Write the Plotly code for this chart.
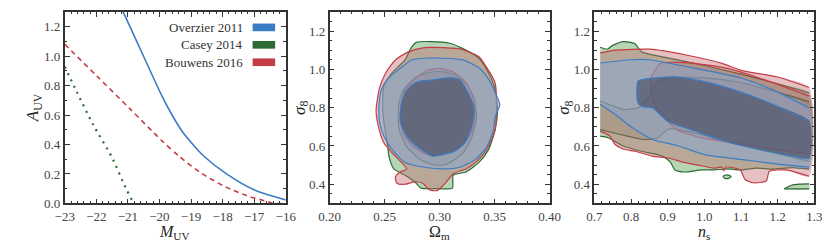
import plotly.graph_objects as go

# ---------------- data ----------------
# Left panel: A_UV vs M_UV relations
muv_overzier = [-21.15, -20.72, -20.25, -19.9, -19.6, -19.3, -19.04, -18.6, -17.91, -17.04, -16.5, -16.0]
auv_overzier = [1.30, 1.10, 0.88, 0.72, 0.60, 0.495, 0.425, 0.322, 0.206, 0.096, 0.055, 0.024]
muv_casey = [-23.0, -22.61, -22.10, -21.51, -21.05, -20.84, -20.82]
auv_casey = [0.928, 0.753, 0.534, 0.315, 0.096, 0.01, 0.0]
muv_bouwens = [-23.0, -21.97, -20.94, -19.92, -19.35, -18.68, -17.96, -17.24, -16.52, -16.4, -16.0]
auv_bouwens = [1.08, 0.862, 0.643, 0.425, 0.315, 0.206, 0.118, 0.053, 0.009, 0.0, 0.0]
legend_labels = ["Overzier 2011", "Casey 2014", "Bouwens 2016"]

# Middle panel: sigma8 vs Omega_m contours (closed loops)
om_green_95 = [(0.2482, 0.815), (0.2496, 0.915), (0.2569, 0.982), (0.2686, 1.049), (0.2745, 1.116), (0.2788, 1.141),
               (0.2920, 1.145), (0.3095, 1.136), (0.3212, 1.108), (0.3358, 1.058), (0.3445, 0.982), (0.3504, 0.899),
               (0.3527, 0.782), (0.3504, 0.681), (0.3445, 0.581), (0.3358, 0.514), (0.3241, 0.464), (0.3124, 0.447),
               (0.3117, 0.380), (0.2978, 0.377), (0.2832, 0.380), (0.2774, 0.413), (0.2686, 0.447), (0.2584, 0.480),
               (0.2540, 0.547), (0.2526, 0.614), (0.2496, 0.715)]
om_green_68 = [(0.2635, 0.832), (0.2680, 0.899), (0.2790, 0.960), (0.2920, 0.985), (0.3036, 0.987), (0.3153, 0.968),
               (0.3256, 0.916), (0.3320, 0.832), (0.3335, 0.748), (0.3295, 0.648), (0.3212, 0.564), (0.3066, 0.505),
               (0.2960, 0.500), (0.2820, 0.531), (0.2700, 0.598), (0.2635, 0.681), (0.2625, 0.765)]
om_red_95 = [(0.2423, 0.782), (0.2453, 0.899), (0.2511, 0.982), (0.2599, 1.049), (0.2715, 1.091), (0.2861, 1.113),
             (0.3036, 1.113), (0.3212, 1.103), (0.3358, 1.066), (0.3431, 1.008), (0.3504, 0.932), (0.3518, 0.815),
             (0.3504, 0.681), (0.3445, 0.597), (0.3358, 0.530), (0.3241, 0.480), (0.3124, 0.455), (0.3051, 0.405),
             (0.2978, 0.367), (0.2905, 0.372), (0.2847, 0.405), (0.2774, 0.413), (0.2686, 0.400), (0.2613, 0.405),
             (0.2599, 0.438), (0.2642, 0.464), (0.2701, 0.480), (0.2569, 0.564), (0.2496, 0.614), (0.2453, 0.681)]
om_red_68 = [(0.2652, 0.815), (0.2686, 0.890), (0.2774, 0.950), (0.2891, 0.995), (0.3000, 1.005), (0.3130, 0.985),
             (0.3240, 0.930), (0.3310, 0.849), (0.3320, 0.765), (0.3299, 0.681), (0.3226, 0.614), (0.3124, 0.572),
             (0.3007, 0.553), (0.2861, 0.562), (0.2745, 0.606), (0.2672, 0.664), (0.2645, 0.740)]
om_blue_95 = [(0.2450, 0.815), (0.2470, 0.890), (0.2526, 0.949), (0.2628, 0.999), (0.2745, 1.049), (0.2861, 1.058),
              (0.3036, 1.058), (0.3212, 1.049), (0.3358, 1.008), (0.3445, 0.949), (0.3504, 0.882), (0.3547, 0.815),
              (0.3504, 0.748), (0.3489, 0.681), (0.3431, 0.597), (0.3328, 0.530), (0.3182, 0.489), (0.3036, 0.480),
              (0.2861, 0.489), (0.2686, 0.514), (0.2569, 0.581), (0.2496, 0.648), (0.2453, 0.731)]
om_blue_68 = [(0.2642, 0.765), (0.2657, 0.832), (0.2701, 0.890), (0.2774, 0.929), (0.2861, 0.941), (0.2964, 0.946),
              (0.3095, 0.957), (0.3182, 0.946), (0.3256, 0.882), (0.3314, 0.798), (0.3299, 0.715), (0.3270, 0.664),
              (0.3226, 0.614), (0.3139, 0.572), (0.3036, 0.556), (0.2934, 0.547), (0.2832, 0.581), (0.2730, 0.631),
              (0.2672, 0.681), (0.2642, 0.731)]

# Right panel: sigma8 vs n_s contours (upper and lower edges, cut at prior edges)
ns_green_95_top = [(0.716, 1.115), (0.735, 1.105), (0.75, 1.125), (0.78, 1.145), (0.81, 1.135), (0.83, 1.09),
                   (0.9, 1.06), (1.0, 1.02), (1.1, 0.975), (1.2, 0.925), (1.286, 0.877)]
ns_green_95_bot = [(0.716, 0.651), (0.738, 0.643), (0.778, 0.600), (0.831, 0.571), (0.885, 0.547), (0.907, 0.517),
                   (0.920, 0.475), (0.947, 0.464), (0.991, 0.475), (1.027, 0.475), (1.062, 0.480), (1.098, 0.475),
                   (1.142, 0.484), (1.186, 0.479), (1.240, 0.487), (1.286, 0.479)]
ns_green_island_a = [(1.051, 0.440), (1.056, 0.447), (1.066, 0.448), (1.073, 0.440), (1.066, 0.431), (1.056, 0.431)]
ns_green_island_b_top = [(1.218, 0.376), (1.239, 0.396), (1.260, 0.401), (1.286, 0.402)]
ns_green_island_b_bot = [(1.218, 0.376), (1.286, 0.376)]
ns_green_68_top = [(0.716, 0.835), (0.75, 0.81), (0.78, 0.79), (0.82, 0.80), (0.85, 0.86), (0.87, 0.93),
                   (0.9, 0.955), (1.0, 0.955), (1.1, 0.93), (1.2, 0.88), (1.286, 0.83)]
ns_green_68_bot = [(0.716, 0.685), (0.77, 0.66), (0.83, 0.635), (0.87, 0.64), (0.905, 0.69), (0.94, 0.68),
                   (1.0, 0.655), (1.05, 0.625), (1.1, 0.605), (1.2, 0.56), (1.286, 0.52)]
ns_red_95_top = [(0.716, 1.086), (0.76, 1.10), (0.85, 1.105), (0.95, 1.075), (1.05, 1.03), (1.1, 0.995),
                 (1.2, 0.96), (1.286, 0.905)]
ns_red_95_bot = [(0.716, 0.676), (0.743, 0.651), (0.756, 0.609), (0.778, 0.584), (0.814, 0.571), (0.858, 0.547),
                 (0.902, 0.537), (0.938, 0.517), (0.982, 0.500), (1.027, 0.484), (1.048, 0.489), (1.053, 0.470),
                 (1.058, 0.489), (1.098, 0.475), (1.111, 0.425), (1.133, 0.408), (1.169, 0.417), (1.177, 0.467),
                 (1.222, 0.475), (1.286, 0.442)]
ns_red_68_top = [(0.853, 0.95), (0.858, 0.97), (0.88, 1.03), (0.95, 1.035), (1.05, 1.01), (1.15, 0.955), (1.286, 0.86)]
ns_red_68_bot = [(0.853, 0.95), (0.855, 0.88), (0.87, 0.80), (0.9, 0.73), (0.93, 0.68), (0.95, 0.665), (1.0, 0.64),
                 (1.1, 0.61), (1.2, 0.58), (1.286, 0.559)]
ns_blue_95_top = [(0.716, 1.033), (0.8, 1.050), (0.85, 1.050), (0.9, 1.033), (0.99, 1.0), (1.098, 0.956),
                  (1.186, 0.894), (1.286, 0.798)]
ns_blue_95_bot = [(0.716, 0.818), (0.76, 0.76), (0.80, 0.70), (0.858, 0.634), (0.93, 0.60), (1.0, 0.555),
                  (1.1, 0.530), (1.2, 0.505), (1.286, 0.489)]
ns_blue_68_top = [(0.816, 0.90), (0.820, 0.939), (0.92, 0.961), (1.01, 0.932), (1.098, 0.882), (1.186, 0.818),
                  (1.286, 0.731)]
ns_blue_68_bot = [(0.816, 0.90), (0.818, 0.83), (0.83, 0.805), (0.858, 0.80), (0.902, 0.726), (0.964, 0.685),
                  (1.053, 0.626), (1.142, 0.584), (1.231, 0.55), (1.286, 0.534)]

# ---------------- style ----------------
BLUE = (59, 125, 196)
GREEN = (45, 106, 52)
RED = (196, 60, 68)
FILL = {
    ("g", 95): "rgba(70,150,70,0.40)", ("g", 68): "rgba(45,90,50,0.16)",
    ("r", 95): "rgba(193,100,107,0.40)", ("r", 68): "rgba(150,50,60,0.18)",
    ("b", 95): "rgba(135,165,205,0.55)", ("b", 68): "rgba(72,76,100,0.64)",
}
LINE = {"g": GREEN, "r": RED, "b": BLUE}
FONT = "Liberation Serif, Times New Roman, serif"
AX = "#333333"


def rgb(c):
    return "rgb(%d,%d,%d)" % c


fig = go.Figure()

# left panel
fig.add_trace(go.Scatter(x=muv_overzier, y=auv_overzier, mode="lines",
                         line=dict(color=rgb(BLUE), width=1.6, shape="spline", smoothing=1.0),
                         xaxis="x", yaxis="y", showlegend=False))
fig.add_trace(go.Scatter(x=muv_casey, y=auv_casey, mode="lines",
                         line=dict(color=rgb(GREEN), width=2.2, dash="2px,5px", shape="spline", smoothing=0.6),
                         xaxis="x", yaxis="y", showlegend=False))
fig.add_trace(go.Scatter(x=muv_bouwens, y=auv_bouwens, mode="lines",
                         line=dict(color=rgb(RED), width=1.6, dash="5px,4px", shape="spline", smoothing=0.8),
                         xaxis="x", yaxis="y", showlegend=False))


def loop(pts, key, lev, xa, ya):
    xs = [p[0] for p in pts] + [pts[0][0]]
    ys = [p[1] for p in pts] + [pts[0][1]]
    fig.add_trace(go.Scatter(x=xs, y=ys, mode="lines", fill="toself", fillcolor=FILL[(key, lev)],
                             line=dict(color=rgb(LINE[key]), width=1.2, shape="spline", smoothing=0.6),
                             xaxis=xa, yaxis=ya, showlegend=False, hoverinfo="skip"))


def band(top, bot, key, lev, xa, ya):
    poly = top + bot[::-1]
    fig.add_trace(go.Scatter(x=[p[0] for p in poly], y=[p[1] for p in poly], mode="lines", fill="toself",
                             fillcolor=FILL[(key, lev)], line=dict(width=0, shape="spline", smoothing=0.6),
                             xaxis=xa, yaxis=ya, showlegend=False, hoverinfo="skip"))
    for edge in (top, bot):
        fig.add_trace(go.Scatter(x=[p[0] for p in edge], y=[p[1] for p in edge], mode="lines",
                                 line=dict(color=rgb(LINE[key]), width=1.2, shape="spline", smoothing=0.6),
                                 xaxis=xa, yaxis=ya, showlegend=False, hoverinfo="skip"))


# middle panel
loop(om_green_95, "g", 95, "x2", "y2")
loop(om_green_68, "g", 68, "x2", "y2")
loop(om_red_95, "r", 95, "x2", "y2")
loop(om_red_68, "r", 68, "x2", "y2")
loop(om_blue_95, "b", 95, "x2", "y2")
loop(om_blue_68, "b", 68, "x2", "y2")

# right panel
band(ns_green_95_top, ns_green_95_bot, "g", 95, "x3", "y3")
loop(ns_green_island_a, "g", 95, "x3", "y3")
band(ns_green_island_b_top, ns_green_island_b_bot, "g", 95, "x3", "y3")
band(ns_green_68_top, ns_green_68_bot, "g", 68, "x3", "y3")
band(ns_red_95_top, ns_red_95_bot, "r", 95, "x3", "y3")
band(ns_red_68_top, ns_red_68_bot, "r", 68, "x3", "y3")
band(ns_blue_95_top, ns_blue_95_bot, "b", 95, "x3", "y3")
band(ns_blue_68_top, ns_blue_68_bot, "b", 68, "x3", "y3")

# axes
W, H = 830, 246
ydom = [1 - 202 / H, 1 - 4 / H]
doms = [[47 / W, 274 / W], [319 / W, 545 / W], [591 / W, 817 / W]]


def axis(dom, rng, dtick, minor_dtick, fmt=None):
    d = dict(domain=dom, range=rng, dtick=dtick, tick0=0, ticks="inside", ticklen=5, tickwidth=1,
             tickcolor=AX, showline=True, linecolor=AX, linewidth=1.6, mirror="allticks",
             showgrid=False, zeroline=False,
             minor=dict(dtick=minor_dtick, tick0=0, ticks="inside", ticklen=2.5, tickcolor=AX, showgrid=False),
             tickfont=dict(family=FONT, size=13, color="#444"))
    if fmt:
        d["tickformat"] = fmt
    return d


fig.update_layout(
    width=W, height=H, margin=dict(l=0, r=0, t=0, b=0),
    paper_bgcolor="white", plot_bgcolor="white",
    font=dict(family=FONT, size=13, color="#333"),
    xaxis=axis(doms[0], [-23, -16], 1, 0.2),
    yaxis=axis(ydom, [0, 1.3], 0.2, 0.1, ".1f"),
    xaxis2=axis(doms[1], [0.2, 0.4], 0.05, 0.01, ".2f"),
    yaxis2=axis(ydom, [0.3, 1.3], 0.2, 0.05, ".1f"),
    xaxis3=axis(doms[2], [0.7, 1.3], 0.1, 0.02, ".1f"),
    yaxis3=axis(ydom, [0.3, 1.3], 0.2, 0.05, ".1f"),
)
fig.layout.xaxis2.anchor = "y2"
fig.layout.yaxis2.anchor = "x2"
fig.layout.xaxis3.anchor = "y3"
fig.layout.yaxis3.anchor = "x3"

# axis titles
TF = dict(family=FONT, size=16, color="#222")
xtitles = [("<i>M</i><sub>UV</sub>", 160), ("Ω<sub>m</sub>", 432), ("<i>n</i><sub>s</sub>", 704)]
for t, px in xtitles:
    fig.add_annotation(x=px / W, y=1 - 221 / H, xref="paper", yref="paper", text=t, showarrow=False,
                       xanchor="center", yanchor="top", borderpad=0, font=TF)
ytitles = [("<i>A</i><sub>UV</sub>", 15), ("<i>σ</i><sub>8</sub>", 289), ("<i>σ</i><sub>8</sub>", 561)]
for t, px in ytitles:
    fig.add_annotation(x=px / W, y=1 - 103 / H, xref="paper", yref="paper", text=t, showarrow=False,
                       textangle=-90, xanchor="center", yanchor="middle", font=dict(family=FONT, size=17, color="#222"))

# legend drawn inside left panel (labels right-aligned, colour patches on the right)
leg_cols = [BLUE, GREEN, RED]
leg_y = [0.919, 0.828, 0.737]
for lab, c, yy in zip(legend_labels, leg_cols, leg_y):
    fig.add_annotation(x=0.815, y=yy, xref="x domain", yref="y domain", text=lab, showarrow=False,
                       xanchor="right", yanchor="middle", font=dict(family=FONT, size=13, color="#333"))
    fig.add_shape(type="rect", xref="x domain", yref="y domain", x0=0.85, x1=0.952, y0=yy - 0.02, y1=yy + 0.02,
                  fillcolor=rgb(c), line=dict(width=0))

fig.write_html("out.html")
